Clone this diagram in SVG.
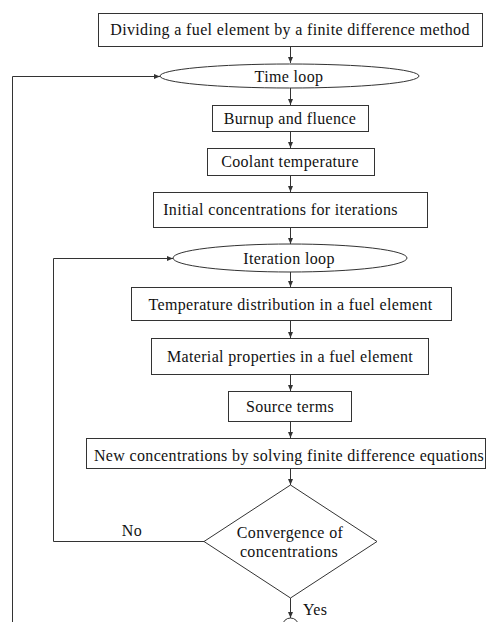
<svg xmlns="http://www.w3.org/2000/svg" width="487" height="622" viewBox="0 0 487 622">
<style>
.b{fill:#fff;stroke:#333;stroke-width:1}
.t{font-family:'Liberation Serif',serif;font-size:16px;letter-spacing:0.35px;fill:#111;text-anchor:middle}
.c{fill:none;stroke:#333;stroke-width:1}
</style>
<defs>
<marker id="ah" viewBox="0 0 6 6" refX="6" refY="3" markerWidth="6" markerHeight="6" orient="auto" markerUnits="userSpaceOnUse">
<path d="M0,0.5 L6,3 L0,5.5 Z" fill="#333"/>
</marker>
</defs>
<rect width="487" height="622" fill="#fff"/>
<g id="connectors">
<line class="c" x1="290.5" y1="46" x2="290.5" y2="63" marker-end="url(#ah)"/>
<line class="c" x1="290.5" y1="88" x2="290.5" y2="105" marker-end="url(#ah)"/>
<line class="c" x1="290.5" y1="131" x2="290.5" y2="148" marker-end="url(#ah)"/>
<line class="c" x1="290.5" y1="175" x2="290.5" y2="192" marker-end="url(#ah)"/>
<line class="c" x1="290.5" y1="227" x2="290.5" y2="244" marker-end="url(#ah)"/>
<line class="c" x1="290.5" y1="272" x2="290.5" y2="287" marker-end="url(#ah)"/>
<line class="c" x1="290.5" y1="320" x2="290.5" y2="338" marker-end="url(#ah)"/>
<line class="c" x1="290.5" y1="374" x2="290.5" y2="391" marker-end="url(#ah)"/>
<line class="c" x1="290.5" y1="421" x2="290.5" y2="438" marker-end="url(#ah)"/>
<line class="c" x1="290.5" y1="468" x2="290.5" y2="485" marker-end="url(#ah)"/>
<line class="c" x1="290.5" y1="598" x2="290.5" y2="618" marker-end="url(#ah)"/>
<polyline class="c" points="204,541.5 53.5,541.5 53.5,258.5 173,258.5" marker-end="url(#ah)"/>
<polyline class="c" points="12.5,622 12.5,76.5 160,76.5" marker-end="url(#ah)"/>
<text class="t" x="132" y="536">No</text>
<text class="t" x="303" y="615" style="text-anchor:start">Yes</text>
</g>
<g id="n1"><rect class="b" x="98.5" y="13.5" width="384" height="33"/><text class="t" x="290" y="35">Dividing a fuel element by a finite difference method</text></g>
<g id="n2"><ellipse class="b" cx="289.5" cy="76" rx="129.5" ry="12"/><text class="t" x="289" y="81.5">Time loop</text></g>
<g id="n3"><rect class="b" x="212.5" y="105.5" width="156" height="26"/><text class="t" x="290" y="123.5">Burnup and fluence</text></g>
<g id="n4"><rect class="b" x="207.5" y="148.5" width="167" height="27"/><text class="t" x="290" y="166.5">Coolant temperature</text></g>
<g id="n5"><rect class="b" x="153.5" y="192.5" width="274" height="35"/><text class="t" x="280.5" y="215">Initial concentrations for iterations</text></g>
<g id="n6"><ellipse class="b" cx="290" cy="258" rx="117" ry="14"/><text class="t" x="289" y="264">Iteration loop</text></g>
<g id="n7"><rect class="b" x="131.5" y="287.5" width="320" height="33"/><text class="t" x="290.5" y="310">Temperature distribution in a fuel element</text></g>
<g id="n8"><rect class="b" x="151.5" y="338.5" width="277" height="36"/><text class="t" x="290" y="362">Material properties in a fuel element</text></g>
<g id="n9"><rect class="b" x="228.5" y="391.5" width="123" height="30"/><text class="t" x="290" y="412">Source terms</text></g>
<g id="n10"><rect class="b" x="86.5" y="438.5" width="399" height="30"/><text class="t" x="289" y="460.5">New concentrations by solving finite difference equations</text></g>
<g id="n11"><polygon class="b" points="290.5,485 377,541.5 290.5,598 204,541.5"/><text class="t" x="290" y="537.5">Convergence of</text><text class="t" x="289" y="557">concentrations</text></g>
<g id="n12"><circle class="b" cx="290.5" cy="626" r="8"/></g>
</svg>
